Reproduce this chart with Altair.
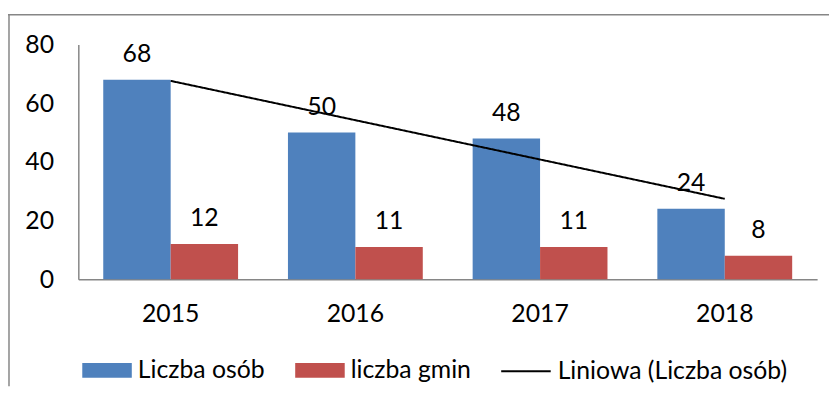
import altair as alt
import pandas as pd

years = ["2015", "2016", "2017", "2018"]
osob = [68, 50, 48, 24]
gmin = [12, 11, 11, 8]
series_names = ["Liczba osób", "liczba gmin"]
trend_name = "Liniowa (Liczba osób)"
colors = ["#4F81BD", "#C0504D"]
y_ticks = [0, 20, 40, 60, 80]

rows = []
for i, y in enumerate(years):
    rows.append({"year": y, "idx": i + 1, "series": series_names[0], "value": osob[i]})
    rows.append({"year": y, "idx": i + 1, "series": series_names[1], "value": gmin[i]})
df = pd.DataFrame(rows)
df_osob = df[df["series"] == series_names[0]]

FONT = "Lato"
FS = 25

x_enc = alt.X("year:N", title=None,
              scale=alt.Scale(paddingInner=0.27, paddingOuter=0.135),
              axis=alt.Axis(labelAngle=0, ticks=False, labelPadding=23,
                            domainColor="#868686", domainWidth=1.5,
                            labelFont=FONT, labelFontSize=FS, labelColor="black"))
xoff = alt.XOffset("series:N", sort=series_names,
                   scale=alt.Scale(paddingInner=0, paddingOuter=0))
y_enc = alt.Y("value:Q", title=None, scale=alt.Scale(domain=[0, 80], nice=False),
              axis=alt.Axis(values=y_ticks, ticks=False, grid=False, labelPadding=25,
                            domainColor="#868686", domainWidth=1.5,
                            labelFont=FONT, labelFontSize=FS, labelColor="black"))

rect_path = "M-1,-0.3H1V0.3H-1Z"
bar_legend = alt.Legend(
    title=None, orient="none", legendX=4, legendY=304, direction="horizontal",
    symbolType=rect_path, symbolSize=2500, symbolStrokeWidth=0, symbolOpacity=1,
    labelFont=FONT, labelFontSize=FS, labelColor="black", labelOffset=6, columnPadding=30,
    labelLimit=400,
)
color_enc = alt.Color("series:N", scale=alt.Scale(domain=series_names, range=colors), legend=bar_legend)

bars = alt.Chart(df).mark_bar().encode(x=x_enc, xOffset=xoff, y=y_enc, color=color_enc)

labels = alt.Chart(df).mark_text(dy=-26, baseline="middle", font=FONT, fontSize=FS, color="black").encode(
    x=alt.X("year:N"), xOffset=xoff, y=alt.Y("value:Q"), text=alt.Text("value:Q"))

line_legend = alt.Legend(
    title=None, orient="none", legendX=426, legendY=304, direction="horizontal",
    symbolType="stroke", symbolSize=2500, symbolStrokeColor="black", symbolStrokeWidth=2,
    labelFont=FONT, labelFontSize=FS, labelColor="black", labelOffset=6, labelLimit=400,
)
trend = alt.Chart(df_osob).transform_regression("idx", "value").transform_calculate(
    year="toString(2014 + datum.idx)", trend=f"'{trend_name}'"
).mark_line(strokeWidth=2, color="black").encode(
    x=alt.X("year:N"), y=alt.Y("value:Q"),
    strokeDash=alt.StrokeDash("trend:N", scale=alt.Scale(domain=[trend_name], range=[[1, 0]]),
                              legend=line_legend))

one = pd.DataFrame({"a": [0]})
frame_top = alt.Chart(one).mark_rule(color="#868686", strokeWidth=1.5).encode(
    x=alt.value(-71), x2=alt.value(760), y=alt.value(-30))
frame_left = alt.Chart(one).mark_rule(color="#868686", strokeWidth=1.5).encode(
    x=alt.value(-70), y=alt.value(-30), y2=alt.value(345))

chart = alt.layer(frame_top, frame_left, bars, labels, trend).properties(
    width=746, height=237,
    padding={"left": 71, "top": 35, "right": 12, "bottom": 108},
    autosize=alt.AutoSizeParams(type="none"),
).configure_view(strokeWidth=0)

chart.save("out.html", embed_options={"renderer": "svg", "actions": False})
